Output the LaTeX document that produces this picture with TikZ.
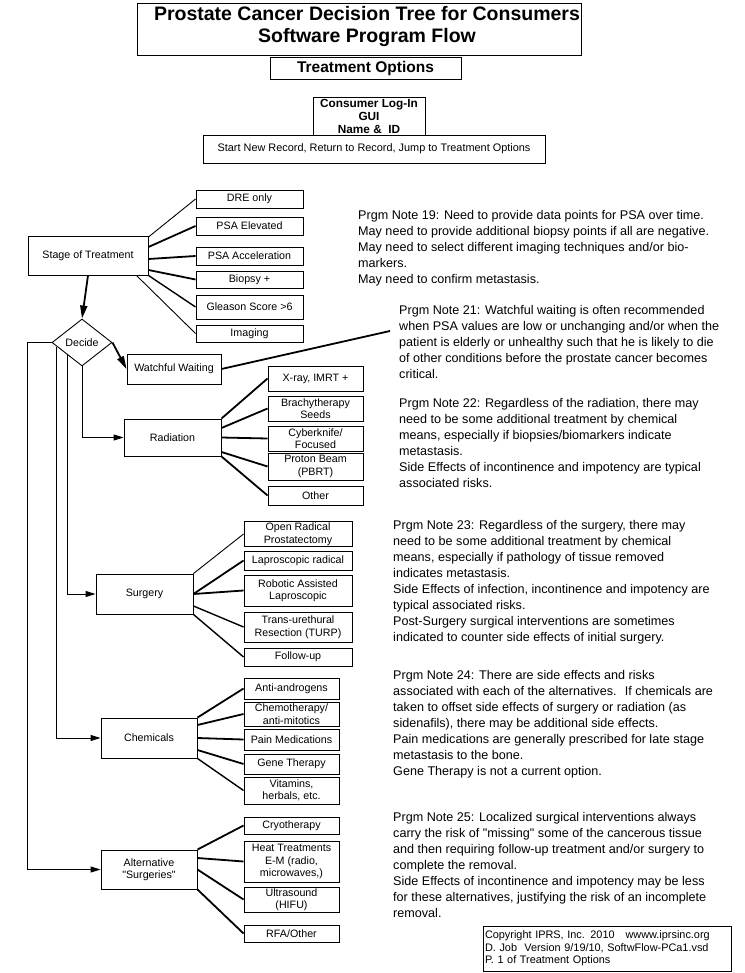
\documentclass[tikz,border=0pt]{standalone}
\usepackage{fontspec}
\setmainfont{Liberation Sans}[Ligatures=TeXOff]
\usetikzlibrary{shapes.geometric,arrows.meta,calc}
\tikzset{
  bx/.style={draw, line width=0.9pt, inner sep=1pt, align=center, font=\fontsize{10.7}{12.5}\selectfont},
  thinc/.style={line width=0.9pt},
  medc/.style={line width=1.4pt},
  thickc/.style={line width=1.8pt},
  note/.style={anchor=north west, inner sep=0pt, align=left, font=\fontsize{12.6}{16}\selectfont},
  arr/.style={line width=0.9pt, -{Triangle[length=10pt,width=6pt]}},
  bigarr/.style={line width=1.8pt, -{Triangle[length=13pt,width=7pt]}},
}
\newcommand\rbox[7][]{\node[bx,#1,minimum width={#5pt-#3pt},minimum height={#6pt-#4pt}] (#2) at ({(#3+#5)/2},{(#4+#6)/2}) {#7};}
\begin{document}
\begin{tikzpicture}[x=1pt,y=-1pt]
\fill[white] (0,0) rectangle (744,973);
\useasboundingbox (0,0) rectangle (744,973);
% header
\node[draw, line width=0.9pt, minimum width=444pt, minimum height=52pt, inner sep=0pt] (titlebox) at (359,29) {};
\node[font=\bfseries\fontsize{19.5}{22}\selectfont, align=center, inner sep=0pt] (title) at (367,27) {Prostate Cancer Decision Tree for Consumers\\Software Program Flow};
\rbox[font=\bfseries\fontsize{15.5}{16}\selectfont]{topt}{270}{57}{461}{79}{Treatment Options}
\rbox[font=\bfseries\fontsize{11.8}{13}\selectfont]{login}{313}{97}{425}{135}{Consumer Log-In\\GUI\\Name \&~ ID}
\rbox[font=\fontsize{10.9}{12.5}\selectfont]{start}{203}{135}{545}{163}{Start New Record, Return to Record, Jump to Treatment Options}
% stage
\rbox{stage}{28}{236}{148}{275}{Stage of Treatment}
\rbox{dre}{196}{190}{303}{208}{DRE only}
\rbox{psae}{196}{217}{303}{235}{PSA Elevated}
\rbox{psaa}{196}{247}{303}{265}{PSA Acceleration}
\rbox{biop}{196}{271}{303}{288}{Biopsy +}
\rbox{glea}{196}{295}{303}{319}{Gleason Score >6}
\rbox{img}{196}{325}{303}{342}{Imaging}
\draw[thinc] ([yshift=18.5pt]stage.east) -- (dre.west);
\draw[thickc] ([yshift=8.5pt]stage.east) -- (psae.west);
\draw[thickc] ([yshift=-3.5pt]stage.east) -- (psaa.west);
\draw[thickc] ([yshift=-14.5pt]stage.east) -- (biop.west);
\draw[medc] (stage.south east) -- (glea.west);
\draw[thinc] ([xshift=-12pt]stage.south east) -- (img.west);
% decide
\node[draw, diamond, aspect=1.28, minimum width=60pt, minimum height=47pt, inner sep=0pt, line width=0.9pt, font=\fontsize{10.7}{12.5}\selectfont] (dec) at (82,342.5) {Decide};
\draw[bigarr] (stage.south) -- (dec.north);
\rbox{ww}{127}{354}{221}{384}{Watchful Waiting}
\draw[bigarr] (dec.east) -- (ww.west);
\coordinate (n21) at (390,331);
\draw[thickc] (ww.east) -- (n21);
% radiation
\rbox{rad}{124}{419}{221}{456}{Radiation}
\rbox{xray}{268}{366}{363}{391}{X-ray, IMRT +}
\rbox{brachy}{268}{396}{363}{421}{Brachytherapy\\Seeds}
\rbox{cyber}{268}{426}{363}{451}{Cyberknife/\\Focused}
\rbox{proton}{268}{453}{363}{480}{Proton Beam\\(PBRT)}
\rbox{other}{268}{486}{363}{505}{Other}
\draw[thickc] (rad.north east) -- (xray.west);
\draw[thickc] ([yshift=9.5pt]rad.east) -- (brachy.west);
\draw[thickc] (rad.east) -- (cyber.west);
\draw[thickc] ([yshift=-14.5pt]rad.east) -- (proton.west);
\draw[thickc] (rad.south east) -- (other.west);
% surgery
\rbox{surg}{96}{574}{193}{614}{Surgery}
\rbox{open}{244}{522}{352}{546}{Open Radical\\Prostatectomy}
\rbox{lap}{244}{551}{352}{570}{Laproscopic radical}
\rbox{rob}{244}{575}{352}{606}{Robotic Assisted\\Laproscopic}
\rbox{turp}{244}{612}{352}{642}{Trans-urethural\\Resection (TURP)}
\rbox{fol}{244}{648}{352}{666}{Follow-up}
\draw[thinc] (surg.north east) -- (open.west);
\draw[thickc] (surg.east) -- (lap.west);
\draw[thickc] (surg.east) -- (rob.west);
\draw[medc] ([yshift=-12pt]surg.east) -- (turp.west);
\draw[medc] (surg.south east) -- (fol.west);
% chemicals
\rbox{chem}{101}{718}{197}{758}{Chemicals}
\rbox{anti}{244}{678}{339}{699}{Anti-androgens}
\rbox{chemo}{244}{702}{339}{726}{Chemotherapy/\\anti-mitotics}
\rbox{pain}{244}{729}{339}{750}{Pain Medications}
\rbox{gene}{244}{754}{339}{774}{Gene Therapy}
\rbox{vit}{244}{777}{339}{804}{Vitamins,\\herbals, etc.}
\draw[thickc] (chem.north east) -- (anti.west);
\draw[thickc] ([yshift=13pt]chem.east) -- (chemo.west);
\draw[thickc] (chem.east) -- (pain.west);
\draw[thickc] ([yshift=-12pt]chem.east) -- (gene.west);
\draw[medc] (chem.south east) -- (vit.west);
% alternatives
\rbox{alt}{101}{850}{197}{889}{Alternative\\"Surgeries"}
\rbox{cryo}{244}{817}{339}{834}{Cryotherapy}
\rbox{heat}{244}{841}{339}{882}{Heat Treatments\\E-M (radio,\\microwaves,)}
\rbox{ultra}{244}{887}{339}{912}{Ultrasound\\(HIFU)}
\rbox{rfa}{244}{925}{339}{942}{RFA/Other}
\draw[thickc] (alt.north east) -- (cryo.west);
\draw[thickc] ([yshift=11.5pt]alt.east) -- (heat.west);
\draw[thickc] (alt.east) -- (ultra.west);
\draw[thickc] (alt.south east) -- (rfa.west);
% decision branches
\draw[arr] (dec.west) -- ++(-24,0) |- (alt.west);
\draw[arr] ($(dec.west)!0.167!(dec.south)$) |- (chem.west);
\draw[arr] ($(dec.west)!0.533!(dec.south)$) |- (surg.west);
\draw[arr] (dec.south) |- (rad.west);
% notes
\node[note] (note19) at (358,210.5) {Prgm Note 19: Need to provide data points for PSA over time.\\May need to provide additional biopsy points if all are negative.\\May need to select different imaging techniques and/or bio-\\markers.\\May need to confirm metastasis.};
\node[note] (note21) at (399,305.5) {Prgm Note 21: Watchful waiting is often recommended\\when PSA values are low or unchanging and/or when the\\patient is elderly or unhealthy such that he is likely to die\\of other conditions before the prostate cancer becomes\\critical.};
\node[note] (note22) at (399,398.5) {Prgm Note 22: Regardless of the radiation, there may\\need to be some additional treatment by chemical\\means, especially if biopsies/biomarkers indicate\\metastasis.\\Side Effects of incontinence and impotency are typical\\associated risks.};
\node[note] (note23) at (393,520.5) {Prgm Note 23: Regardless of the surgery, there may\\need to be some additional treatment by chemical\\means, especially if pathology of tissue removed\\indicates metastasis.\\Side Effects of infection, incontinence and impotency are\\typical associated risks.\\Post-Surgery surgical interventions are sometimes\\indicated to counter side effects of initial surgery.};
\node[note] (note24) at (393,670.5) {Prgm Note 24: There are side effects and risks\\associated with each of the alternatives.~ If chemicals are\\taken to offset side effects of surgery or radiation (as\\sidenafils), there may be additional side effects.\\Pain medications are generally prescribed for late stage\\metastasis to the bone.\\Gene Therapy is not a current option.};
\node[note] (note25) at (393,812.5) {Prgm Note 25: Localized surgical interventions always\\carry the risk of "missing" some of the cancerous tissue\\and then requiring follow-up treatment and/or surgery to\\complete the removal.\\Side Effects of incontinence and impotency may be less\\for these alternatives, justifying the risk of an incomplete\\removal.};
\node[draw, line width=0.9pt, text width=244pt, inner xsep=2pt, inner ysep=1pt, minimum height=45pt, align=left, font=\fontsize{10.9}{12.5}\selectfont] (copy) at (607,948.5) {Copyright IPRS, Inc. 2010~~~wwww.iprsinc.org\\D. Job~ Version 9/19/10, SoftwFlow-PCa1.vsd\\P. 1 of Treatment Options};
\end{tikzpicture}
\end{document}
